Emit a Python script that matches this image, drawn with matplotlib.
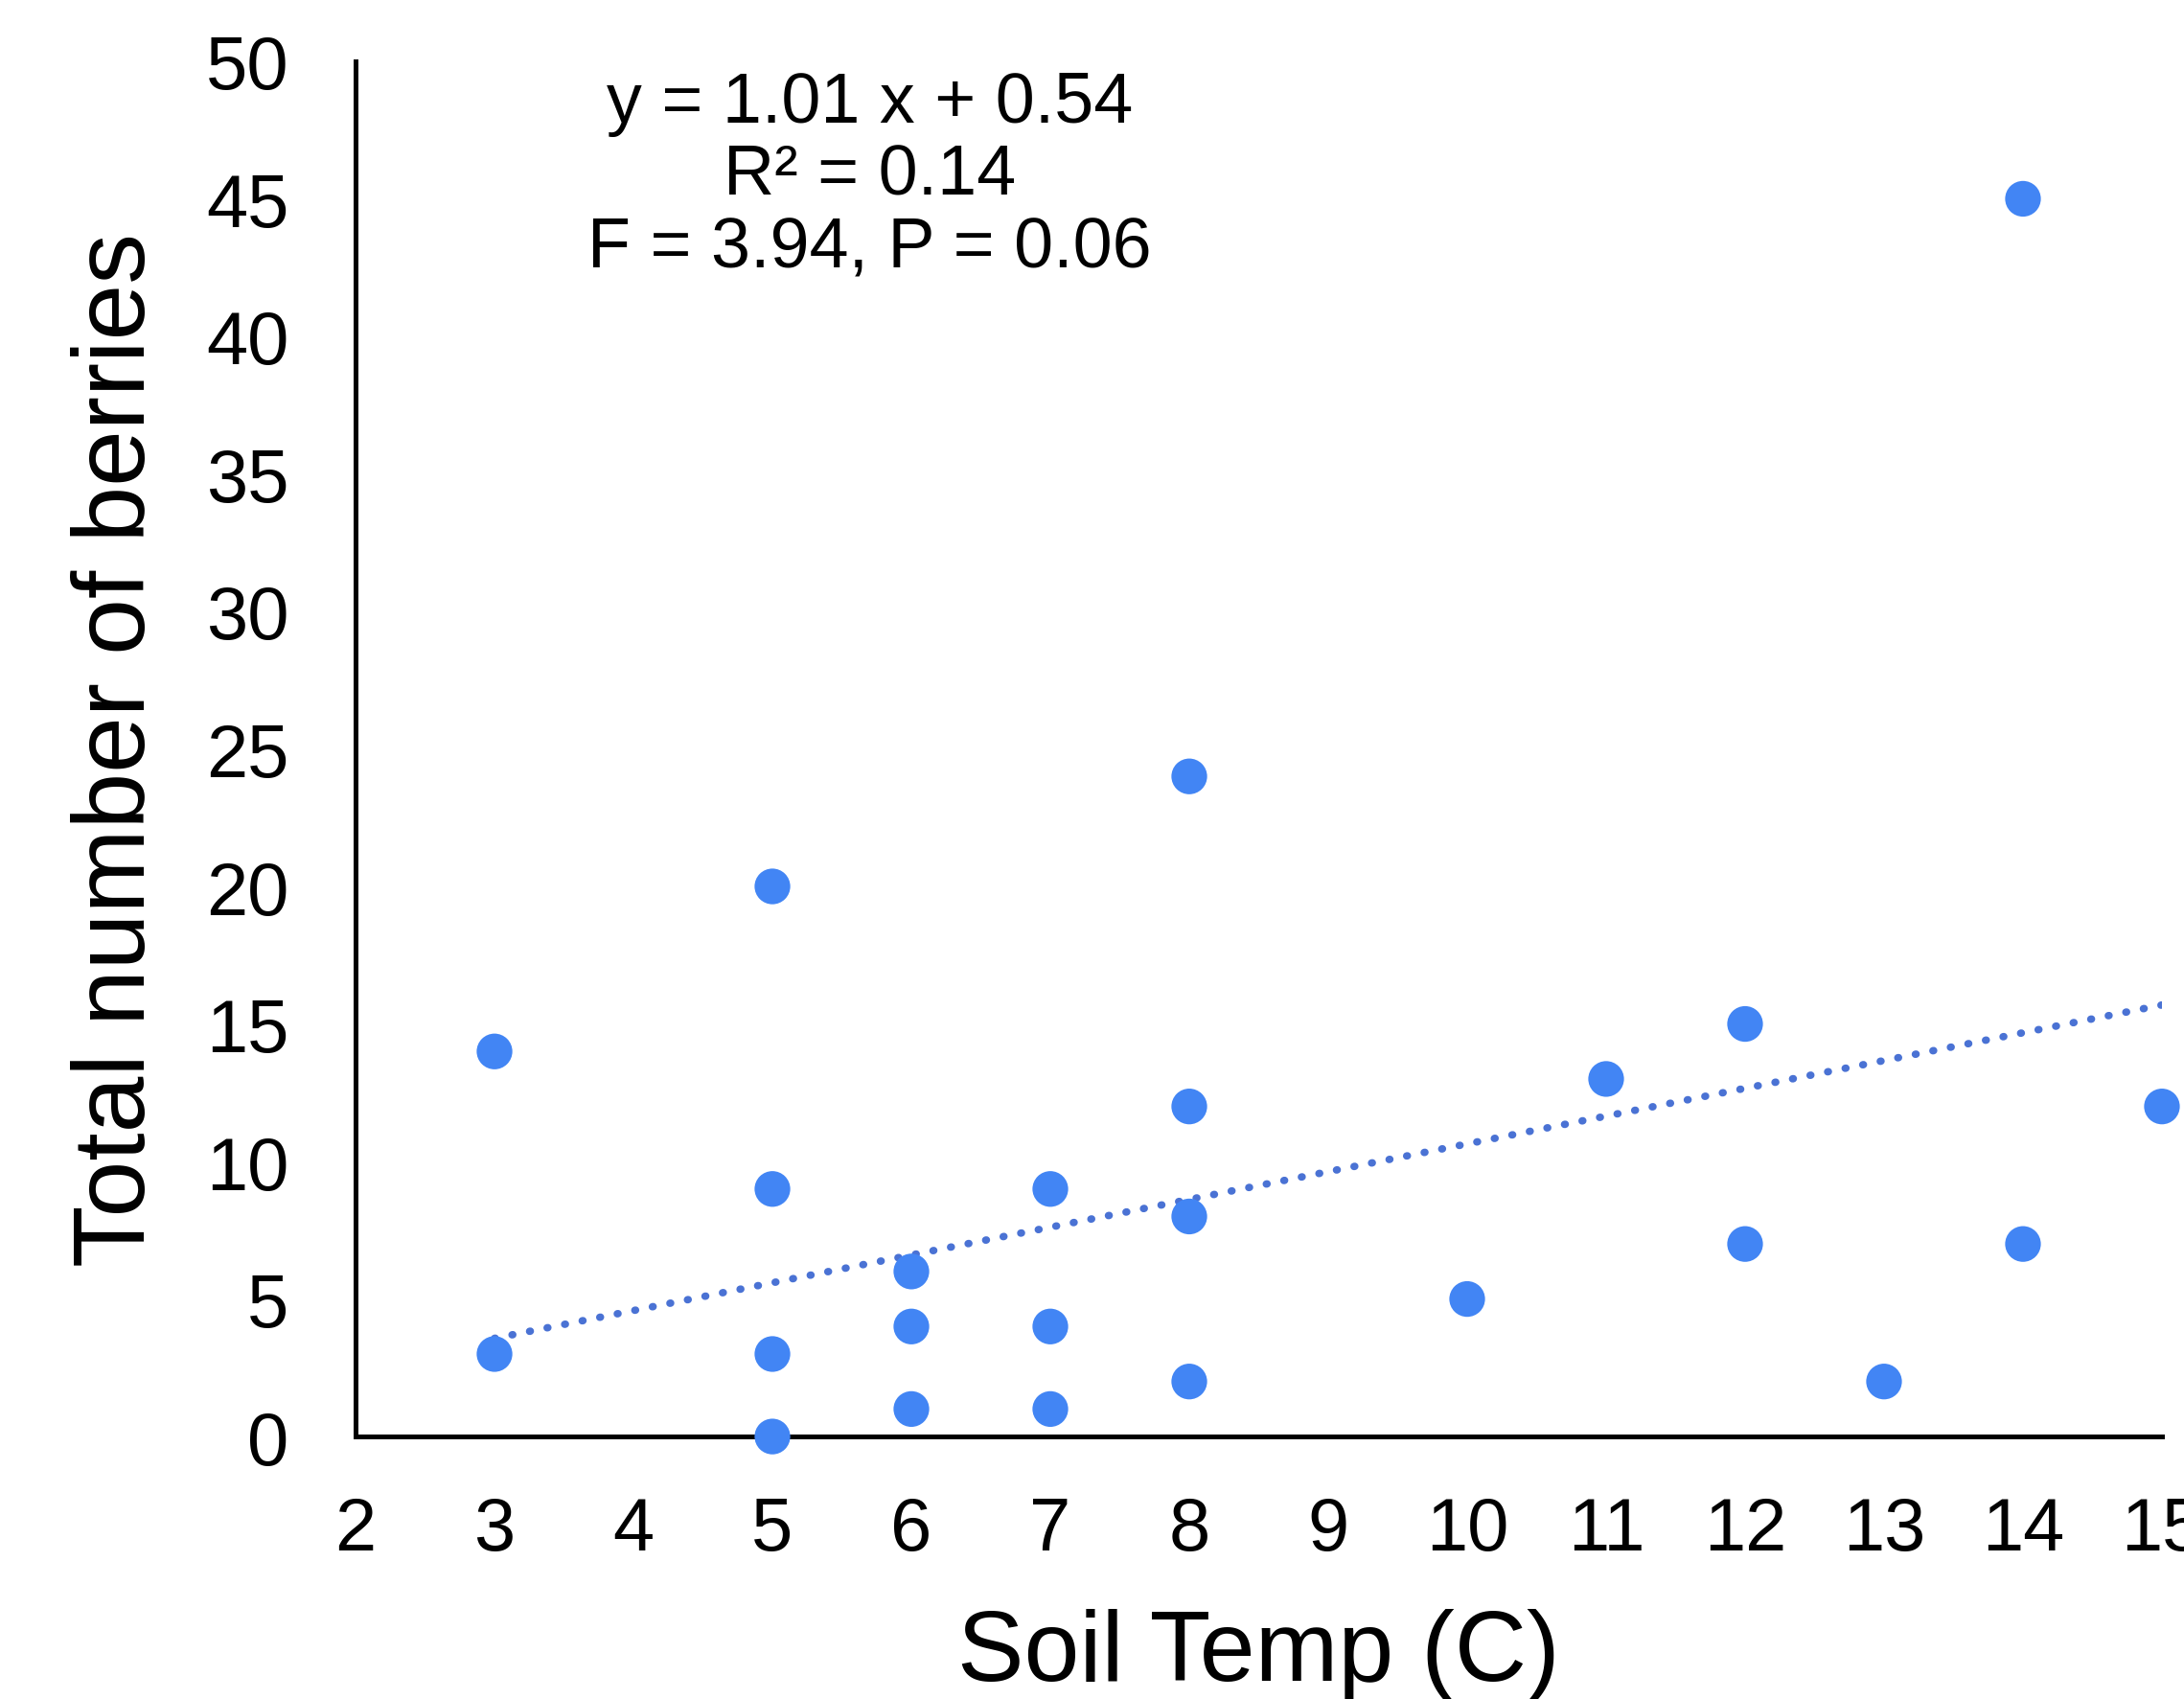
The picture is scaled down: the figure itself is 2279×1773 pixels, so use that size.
import matplotlib
matplotlib.use("Agg")
import matplotlib.pyplot as plt
import numpy as np

# data
soil_temp = [3, 3, 5, 5, 5, 5, 6, 6, 6, 7, 7, 7, 8, 8, 8, 8, 10, 11, 12, 12, 13, 14, 14, 15]
berries = [14, 3, 20, 9, 3, 0, 6, 4, 1, 9, 4, 1, 24, 12, 8, 2, 5, 13, 15, 7, 2, 45, 7, 12]

slope = 1.01
intercept = 0.54
fit_text = "y = 1.01 x + 0.54\nR² = 0.14\nF = 3.94, P = 0.06"

x_ticks = list(range(2, 16))
y_ticks = list(range(0, 51, 5))


def main() -> None:
    plt.rcParams["font.family"] = ["Liberation Sans", "DejaVu Sans"]

    fig = plt.figure(figsize=(22.79, 17.74), dpi=100)
    ax = fig.add_axes([0.1628, 0.1544, 0.9899 - 0.1628, 0.9634 - 0.1544])

    xs = np.array(soil_temp, dtype=float)
    fit_x = np.array([xs.min(), xs.max()])
    ax.plot(fit_x, slope * fit_x + intercept, color="#4a72d4", lw=5.6,
            ls=(0, (0.1, 2.3)), dash_capstyle="round", zorder=2)

    ax.scatter(soil_temp, berries, s=720, color="#4285f4", edgecolors="none",
               clip_on=False, zorder=3)

    ax.set_xlim(2, 15)
    ax.set_ylim(0, 50)
    ax.set_xticks(x_ticks)
    ax.set_yticks(y_ticks)
    ax.tick_params(axis="both", length=0, labelsize=56)
    ax.tick_params(axis="x", pad=44)
    ax.tick_params(axis="y", pad=50)

    for side in ("top", "right"):
        ax.spines[side].set_visible(False)
    for side in ("left", "bottom"):
        ax.spines[side].set_linewidth(3.6)
        ax.spines[side].set_zorder(1)

    ax.set_xlabel("Soil Temp (C)", fontsize=75)
    ax.set_ylabel("Total number of berries", fontsize=76)
    ax.xaxis.set_label_coords(0.5, -0.125)
    ax.yaxis.set_label_coords(-0.105, 0.5)

    ax.text(5.7, 45.85, fit_text, ha="center", va="center", fontsize=53,
            linespacing=1.12)

    fig.savefig("out.png", dpi=100)
    plt.close(fig)


if __name__ == "__main__":
    main()
